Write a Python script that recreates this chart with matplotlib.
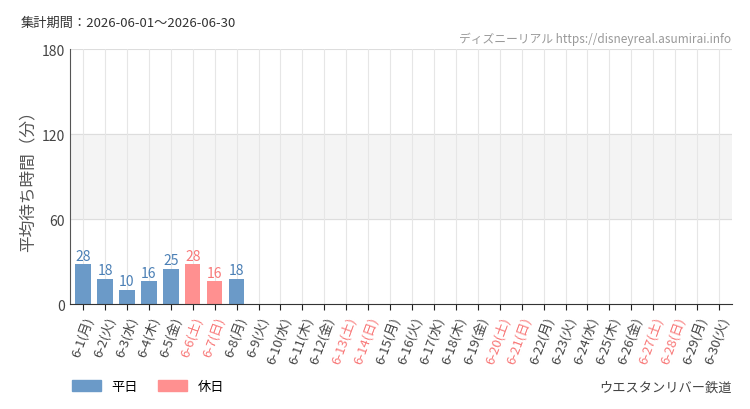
import matplotlib
matplotlib.use('Agg')
import matplotlib.pyplot as plt
from matplotlib.patches import Patch

plt.rcParams['font.family'] = ['Noto Sans CJK JP', 'DejaVu Sans']

days = list(range(1, 31))
weekdays = ['月', '火', '水', '木', '金', '土', '日']
values = [28, 18, 10, 16, 25, 28, 16, 18]
holidays = [6, 7, 13, 14, 20, 21, 27, 28]

blue = '#6b9ac8'
pink = '#ff9090'
label_blue = '#4a7fb5'
label_pink = '#f87878'

fig = plt.figure(figsize=(7.5, 4.1), dpi=100)
ax = fig.add_axes([0.0933, 0.256, 0.883, 0.622])

ax.axhspan(60, 120, color='#f4f4f4', zorder=0)
for y in [60, 120, 180]:
    ax.axhline(y, color='#dddddd', lw=0.8, zorder=0)
for i in range(len(days)):
    ax.axvline(i, color='#e6e6e6', lw=0.8, zorder=0)

for i, v in enumerate(values):
    hol = days[i] in holidays
    ax.bar(i, v, width=0.7, color=pink if hol else blue, zorder=2)
    ax.text(i, v + 1, str(v), ha='center', va='bottom', fontsize=10,
            color=label_pink if hol else label_blue, family='Liberation Sans Narrow' if False else None)

ax.set_xlim(-0.6, 29.6)
ax.set_ylim(0, 180)
ax.set_yticks([0, 60, 120, 180])
ax.tick_params(axis='y', length=0, labelsize=10, colors='#444444')
ax.set_xticks(range(len(days)))
labels = ['6-%d(%s)' % (d, weekdays[(d - 1) % 7]) for d in days]
ax.set_xticklabels(labels, rotation=70, ha='right', va='top', fontsize=9.5,
                   rotation_mode='anchor')
for lab, d in zip(ax.get_xticklabels(), days):
    lab.set_color('#f87878' if d in holidays else '#444444')
ax.tick_params(axis='x', length=4, color='#222222')
for s in ['top', 'right']:
    ax.spines[s].set_visible(False)
ax.spines['left'].set_color('#555555')
ax.spines['bottom'].set_color('#333333')
ax.set_ylabel('平均待ち時間（分）', fontsize=12, color='#555555')

fig.text(0.027, 0.935, '集計期間：2026-06-01～2026-06-30', fontsize=9.5, color='#333333')
fig.text(0.975, 0.895, 'ディズニーリアル https://disneyreal.asumirai.info', fontsize=8.5,
         color='#999999', ha='right')
fig.text(0.975, 0.045, 'ウエスタンリバー鉄道', fontsize=9.5, color='#444444', ha='right')
fig.legend(handles=[Patch(color=blue, label='平日'), Patch(color=pink, label='休日')],
           loc='lower left', bbox_to_anchor=(0.08, 0.01), ncol=2, frameon=False,
           fontsize=9.5, handlelength=2.2, handleheight=0.9, columnspacing=1.5)

fig.savefig('out.png', dpi=100)
